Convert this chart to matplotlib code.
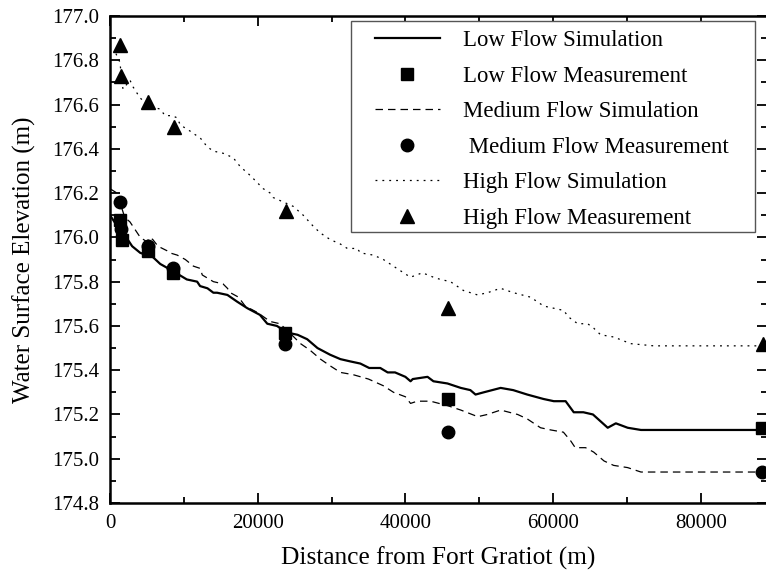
import matplotlib
matplotlib.use('Agg')
import matplotlib.pyplot as plt
from matplotlib.patches import Rectangle
from matplotlib.ticker import MultipleLocator, FormatStrFormatter

plt.rcParams['font.family'] = ['Liberation Serif', 'DejaVu Serif']

# Simulated water surface profiles (distance in m, elevation in m)
low_sim_x = [0, 1400, 1600, 2400, 3000, 4100, 5000, 5200, 6800, 8400, 10400, 11800, 12200,
             13200, 14000, 14500, 15900, 17200, 18600, 20300, 21300, 22600, 24000, 25400,
             26700, 28100, 29800, 31200, 32500, 33900, 35100, 36600, 37600, 38600, 40000,
             40700, 41000, 43000, 43800, 45700, 47500, 48800, 49500, 50600, 52900, 54600,
             56500, 58700, 60100, 61700, 62800, 63700, 64100, 65400, 67400, 68500, 70100,
             71900, 86400, 88400]
low_sim_y = [176.10, 176.03, 176.00, 175.99, 175.96, 175.93, 175.92, 175.93, 175.88, 175.85,
             175.81, 175.80, 175.78, 175.77, 175.75, 175.75, 175.74, 175.71, 175.68, 175.65,
             175.61, 175.60, 175.57, 175.56, 175.54, 175.50, 175.47, 175.45, 175.44, 175.43,
             175.41, 175.41, 175.39, 175.39, 175.37, 175.35, 175.36, 175.37, 175.35, 175.34,
             175.32, 175.31, 175.29, 175.30, 175.32, 175.31, 175.29, 175.27, 175.26, 175.26,
             175.21, 175.21, 175.21, 175.20, 175.14, 175.16, 175.14, 175.13, 175.13, 175.13]

med_sim_x = [0, 950, 2000, 2700, 3100, 4100, 5000, 5400, 5800, 6500, 7700, 8100, 9100, 10200,
             11300, 12200, 12500, 14000, 15300, 15900, 16300, 17400, 18300, 20000, 21700,
             23000, 24000, 25800, 27100, 28500, 29800, 31200, 32900, 35000, 37000, 38400,
             40000, 40700, 41600, 43400, 45700, 47500, 49800, 51100, 52900, 55200, 56500,
             58300, 59700, 61400, 62400, 63000, 64400, 65500, 66900, 68200, 70100, 71900,
             86400, 88400]
med_sim_y = [176.22, 176.20, 176.09, 176.07, 176.05, 176.00, 175.98, 176.00, 175.99, 175.96,
             175.94, 175.93, 175.92, 175.90, 175.87, 175.86, 175.83, 175.80, 175.79, 175.77,
             175.75, 175.73, 175.69, 175.66, 175.62, 175.61, 175.58, 175.52, 175.49, 175.45,
             175.42, 175.39, 175.38, 175.36, 175.33, 175.30, 175.28, 175.25, 175.26, 175.26,
             175.24, 175.22, 175.19, 175.20, 175.22, 175.20, 175.18, 175.14, 175.13, 175.12,
             175.08, 175.05, 175.05, 175.03, 174.99, 174.97, 174.96, 174.94, 174.94, 174.94]

high_sim_x = [800, 1100, 1350, 1630, 1760, 2710, 3120, 4070, 5420, 6780, 7460, 8410, 9090,
              9490, 9900, 10850, 11250, 12200, 13150, 13970, 15320, 16680, 17630, 18980,
              20750, 21700, 22100, 23460, 24820, 26170, 27530, 28480, 29830, 31190, 32140,
              33490, 33900, 35660, 37020, 38380, 40680, 42310, 43800, 44750, 46100, 47870,
              49770, 51120, 52880, 54650, 56950, 58720, 61430, 62110, 63330, 64680, 65500,
              66440, 68210, 70510, 73630, 88400]
high_sim_y = [176.83, 176.81, 176.79, 176.70, 176.67, 176.71, 176.68, 176.63, 176.59, 176.58,
              176.55, 176.55, 176.54, 176.51, 176.50, 176.48, 176.47, 176.45, 176.41, 176.39,
              176.38, 176.36, 176.32, 176.28, 176.22, 176.20, 176.18, 176.16, 176.14, 176.10,
              176.05, 176.02, 175.99, 175.97, 175.95, 175.95, 175.93, 175.92, 175.90, 175.87,
              175.82, 175.84, 175.82, 175.81, 175.80, 175.76, 175.74, 175.75, 175.77, 175.75,
              175.73, 175.69, 175.67, 175.64, 175.61, 175.61, 175.59, 175.56, 175.55, 175.52,
              175.51, 175.51]

# Measured gauge elevations
low_meas_x = [1350, 1600, 5150, 8550, 23700, 45800, 88300]
low_meas_y = [176.08, 175.99, 175.94, 175.84, 175.57, 175.27, 175.14]
med_meas_x = [1350, 1500, 5150, 8550, 23700, 45800, 88300]
med_meas_y = [176.16, 176.04, 175.96, 175.86, 175.52, 175.12, 174.94]
high_meas_x = [1350, 1500, 5150, 8600, 23800, 45800, 88400]
high_meas_y = [176.87, 176.73, 176.61, 176.50, 176.12, 175.68, 175.52]

fig = plt.figure(figsize=(7.66, 5.72), dpi=100)
ax = fig.add_axes([0.1436, 0.1206, 0.8580, 0.8514])

ax.plot(low_sim_x, low_sim_y, color='black', lw=1.6, label='Low Flow Simulation')
ax.plot(low_meas_x, low_meas_y, 's', color='black', ms=8, label='Low Flow Measurement')
ax.plot(med_sim_x, med_sim_y, color='black', lw=0.9, dashes=(6, 4),
        label='Medium Flow Simulation')
ax.plot(med_meas_x, med_meas_y, 'o', color='black', ms=9, label=' Medium Flow Measurement')
ax.plot(high_sim_x, high_sim_y, color='black', lw=0.9, dashes=(1.5, 4),
        label='High Flow Simulation')
ax.plot(high_meas_x, high_meas_y, '^', color='black', ms=10, label='High Flow Measurement')

ax.set_xlim(0, 89000)
ax.set_ylim(174.8, 177.0)
ax.xaxis.set_major_locator(MultipleLocator(20000))
ax.xaxis.set_minor_locator(MultipleLocator(10000))
ax.yaxis.set_major_locator(MultipleLocator(0.2))
ax.yaxis.set_minor_locator(MultipleLocator(0.1))
ax.yaxis.set_major_formatter(FormatStrFormatter('%.1f'))
ax.tick_params(which='both', direction='in', top=True, right=True, width=1.3)
ax.tick_params(which='major', length=7, labelsize=15, pad=8)
ax.tick_params(which='minor', length=4)
for s in ax.spines.values():
    s.set_linewidth(1.8)

ax.set_xlabel('Distance from Fort Gratiot (m)', fontsize=18.3, labelpad=10)
ax.set_ylabel('Water Surface Elevation (m)', fontsize=18, labelpad=11)

# legend entries without a frame, plus a wider box drawn behind them
leg = ax.legend(loc='upper left', bbox_to_anchor=(375 / 766, 1 - 30 / 572),
                bbox_transform=fig.transFigure, fontsize=16.4, handlelength=2.85,
                handletextpad=1.0, labelspacing=0.64, borderpad=0, borderaxespad=0,
                frameon=False)
box = Rectangle((351 / 766, 1 - 232 / 572), 404 / 766, 211 / 572, transform=fig.transFigure,
                facecolor='white', edgecolor='#555555', lw=1.0, zorder=4)
ax.add_artist(box)
box.set_clip_on(False)
leg.set_zorder(5)

fig.savefig('out.png', dpi=100)
